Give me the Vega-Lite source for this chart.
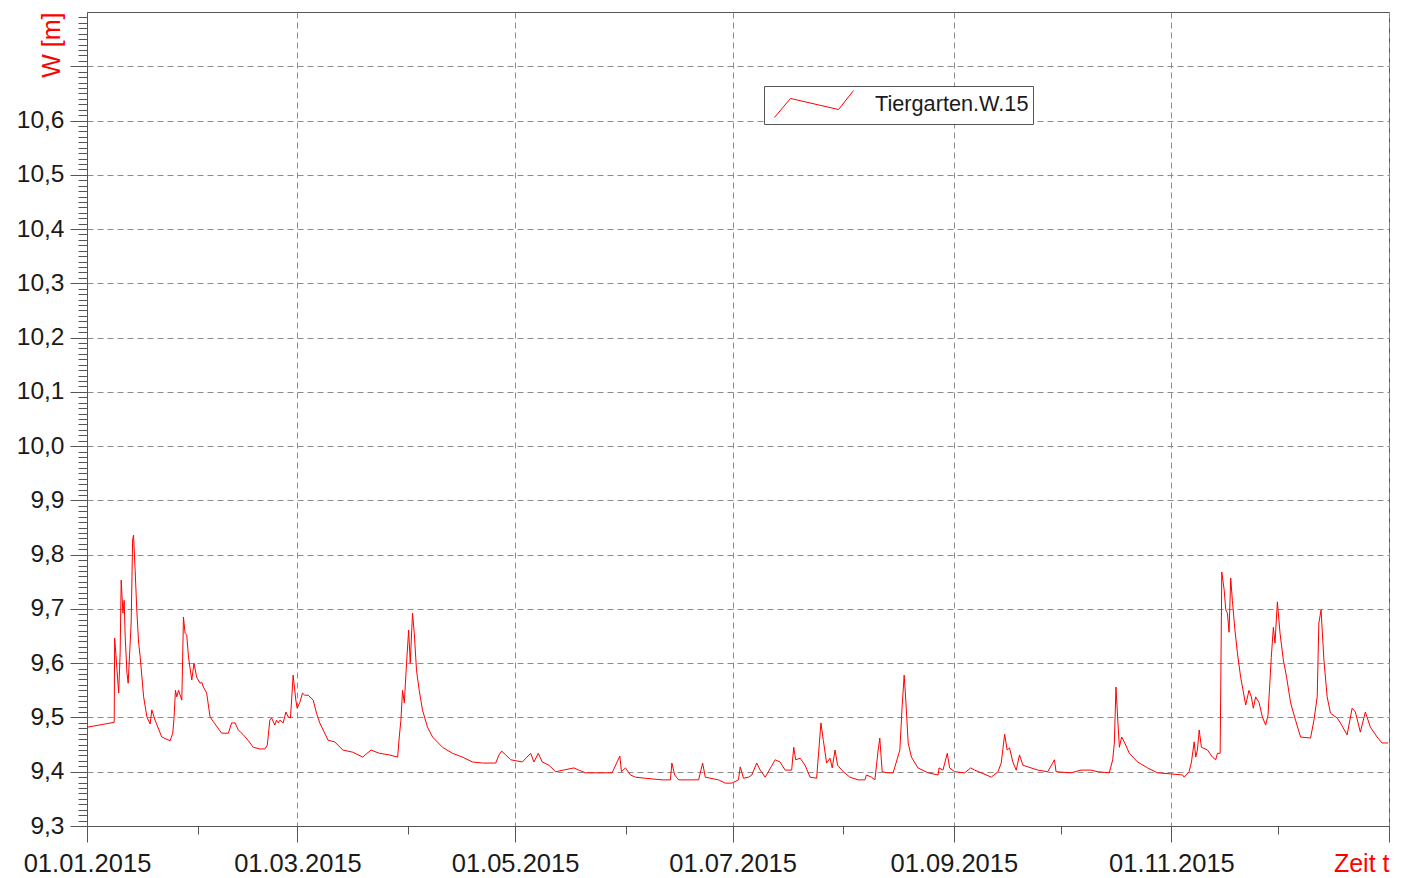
{
  "$schema": "https://vega.github.io/schema/vega-lite/v6.json",
  "width": 1302,
  "height": 814,
  "autosize": {"type": "none"},
  "padding": {"left": 87, "top": 12, "right": 25, "bottom": 52},
  "background": "white",
  "config": {
    "view": {"stroke": "#555555", "strokeWidth": 1},
    "font": "Liberation Sans",
    "axis": {
      "labelFont": "Liberation Sans",
      "titleFont": "Liberation Sans",
      "domainColor": "#555555",
      "tickColor": "#555555",
      "labelColor": "#1a1a1a",
      "labelFontSize": 24,
      "gridColor": "#8c8c8c",
      "gridDash": [6, 4],
      "gridWidth": 1
    }
  },
  "data": {
    "values": [
      {"t": "2015-01-01T00:00", "w": 9.482},
      {"t": "2015-01-08T15:00", "w": 9.491},
      {"t": "2015-01-08T18:00", "w": 9.646},
      {"t": "2015-01-09T05:00", "w": 9.606},
      {"t": "2015-01-09T21:00", "w": 9.545},
      {"t": "2015-01-10T07:00", "w": 9.619},
      {"t": "2015-01-10T14:00", "w": 9.753},
      {"t": "2015-01-11T02:00", "w": 9.692},
      {"t": "2015-01-11T10:00", "w": 9.716},
      {"t": "2015-01-11T17:00", "w": 9.648},
      {"t": "2015-01-12T05:00", "w": 9.582},
      {"t": "2015-01-12T13:00", "w": 9.563},
      {"t": "2015-01-12T23:00", "w": 9.619},
      {"t": "2015-01-13T09:00", "w": 9.674},
      {"t": "2015-01-13T19:00", "w": 9.827},
      {"t": "2015-01-14T01:00", "w": 9.836},
      {"t": "2015-01-14T12:00", "w": 9.771},
      {"t": "2015-01-14T23:00", "w": 9.698},
      {"t": "2015-01-15T11:00", "w": 9.639},
      {"t": "2015-01-15T22:00", "w": 9.611},
      {"t": "2015-01-16T21:00", "w": 9.538},
      {"t": "2015-01-17T19:00", "w": 9.501},
      {"t": "2015-01-18T17:00", "w": 9.488},
      {"t": "2015-01-19T04:00", "w": 9.514},
      {"t": "2015-01-20T02:00", "w": 9.495},
      {"t": "2015-01-21T23:00", "w": 9.464},
      {"t": "2015-01-24T07:00", "w": 9.457},
      {"t": "2015-01-25T01:00", "w": 9.471},
      {"t": "2015-01-25T10:00", "w": 9.501},
      {"t": "2015-01-25T19:00", "w": 9.550},
      {"t": "2015-01-26T04:00", "w": 9.538},
      {"t": "2015-01-26T16:00", "w": 9.550},
      {"t": "2015-01-27T14:00", "w": 9.532},
      {"t": "2015-01-28T01:00", "w": 9.685},
      {"t": "2015-01-28T12:00", "w": 9.655},
      {"t": "2015-01-28T23:00", "w": 9.652},
      {"t": "2015-01-29T11:00", "w": 9.611},
      {"t": "2015-01-30T09:00", "w": 9.569},
      {"t": "2015-01-31T00:00", "w": 9.600},
      {"t": "2015-01-31T18:00", "w": 9.574},
      {"t": "2015-02-01T17:00", "w": 9.563},
      {"t": "2015-02-02T04:00", "w": 9.565},
      {"t": "2015-02-02T15:00", "w": 9.556},
      {"t": "2015-02-03T13:00", "w": 9.545},
      {"t": "2015-02-04T12:00", "w": 9.501},
      {"t": "2015-02-05T11:00", "w": 9.492},
      {"t": "2015-02-07T18:00", "w": 9.471},
      {"t": "2015-02-09T15:00", "w": 9.471},
      {"t": "2015-02-10T13:00", "w": 9.490},
      {"t": "2015-02-11T12:00", "w": 9.490},
      {"t": "2015-02-12T10:00", "w": 9.477},
      {"t": "2015-02-13T20:00", "w": 9.468},
      {"t": "2015-02-15T06:00", "w": 9.457},
      {"t": "2015-02-16T15:00", "w": 9.445},
      {"t": "2015-02-18T11:00", "w": 9.442},
      {"t": "2015-02-19T21:00", "w": 9.442},
      {"t": "2015-02-20T13:00", "w": 9.449},
      {"t": "2015-02-21T06:00", "w": 9.495},
      {"t": "2015-02-21T18:00", "w": 9.499},
      {"t": "2015-02-22T16:00", "w": 9.486},
      {"t": "2015-02-23T03:00", "w": 9.495},
      {"t": "2015-02-23T15:00", "w": 9.490},
      {"t": "2015-02-24T02:00", "w": 9.495},
      {"t": "2015-02-25T00:00", "w": 9.490},
      {"t": "2015-02-25T18:00", "w": 9.510},
      {"t": "2015-02-26T10:00", "w": 9.501},
      {"t": "2015-02-27T01:00", "w": 9.499},
      {"t": "2015-02-27T19:00", "w": 9.578},
      {"t": "2015-02-28T13:00", "w": 9.532},
      {"t": "2015-02-28T22:00", "w": 9.517},
      {"t": "2015-03-01T16:00", "w": 9.528},
      {"t": "2015-03-02T10:00", "w": 9.545},
      {"t": "2015-03-03T01:00", "w": 9.541},
      {"t": "2015-03-04T00:00", "w": 9.541},
      {"t": "2015-03-05T10:00", "w": 9.532},
      {"t": "2015-03-06T08:00", "w": 9.508},
      {"t": "2015-03-07T06:00", "w": 9.490},
      {"t": "2015-03-08T05:00", "w": 9.477},
      {"t": "2015-03-09T14:00", "w": 9.458},
      {"t": "2015-03-11T11:00", "w": 9.455},
      {"t": "2015-03-13T17:00", "w": 9.440},
      {"t": "2015-03-16T12:00", "w": 9.436},
      {"t": "2015-03-19T07:00", "w": 9.427},
      {"t": "2015-03-21T15:00", "w": 9.440},
      {"t": "2015-03-23T23:00", "w": 9.434},
      {"t": "2015-03-26T18:00", "w": 9.431},
      {"t": "2015-03-29T02:00", "w": 9.427},
      {"t": "2015-03-29T13:00", "w": 9.464},
      {"t": "2015-03-30T00:00", "w": 9.495},
      {"t": "2015-03-30T11:00", "w": 9.550},
      {"t": "2015-03-30T23:00", "w": 9.527},
      {"t": "2015-03-31T14:00", "w": 9.600},
      {"t": "2015-04-01T04:00", "w": 9.661},
      {"t": "2015-04-01T15:00", "w": 9.600},
      {"t": "2015-04-02T06:00", "w": 9.692},
      {"t": "2015-04-02T18:00", "w": 9.655},
      {"t": "2015-04-03T09:00", "w": 9.587},
      {"t": "2015-04-04T03:00", "w": 9.550},
      {"t": "2015-04-05T01:00", "w": 9.514},
      {"t": "2015-04-06T11:00", "w": 9.482},
      {"t": "2015-04-07T21:00", "w": 9.464},
      {"t": "2015-04-10T16:00", "w": 9.445},
      {"t": "2015-04-13T11:00", "w": 9.434},
      {"t": "2015-04-16T06:00", "w": 9.427},
      {"t": "2015-04-19T01:00", "w": 9.418},
      {"t": "2015-04-21T20:00", "w": 9.416},
      {"t": "2015-04-25T14:00", "w": 9.416},
      {"t": "2015-04-26T12:00", "w": 9.431},
      {"t": "2015-04-27T06:00", "w": 9.438},
      {"t": "2015-04-28T09:00", "w": 9.431},
      {"t": "2015-04-29T19:00", "w": 9.422},
      {"t": "2015-05-03T01:00", "w": 9.418},
      {"t": "2015-05-05T09:00", "w": 9.434},
      {"t": "2015-05-06T07:00", "w": 9.418},
      {"t": "2015-05-07T12:00", "w": 9.434},
      {"t": "2015-05-08T15:00", "w": 9.418},
      {"t": "2015-05-10T12:00", "w": 9.412},
      {"t": "2015-05-12T09:00", "w": 9.400},
      {"t": "2015-05-17T12:00", "w": 9.407},
      {"t": "2015-05-18T21:00", "w": 9.403},
      {"t": "2015-05-20T18:00", "w": 9.398},
      {"t": "2015-05-28T05:00", "w": 9.398},
      {"t": "2015-05-30T09:00", "w": 9.429},
      {"t": "2015-05-30T20:00", "w": 9.400},
      {"t": "2015-05-31T23:00", "w": 9.407},
      {"t": "2015-06-02T08:00", "w": 9.394},
      {"t": "2015-06-03T18:00", "w": 9.390},
      {"t": "2015-06-06T13:00", "w": 9.388},
      {"t": "2015-06-11T05:00", "w": 9.385},
      {"t": "2015-06-13T13:00", "w": 9.385},
      {"t": "2015-06-13T23:00", "w": 9.416},
      {"t": "2015-06-14T18:00", "w": 9.394},
      {"t": "2015-06-15T21:00", "w": 9.385},
      {"t": "2015-06-21T11:00", "w": 9.385},
      {"t": "2015-06-22T14:00", "w": 9.416},
      {"t": "2015-06-23T08:00", "w": 9.390},
      {"t": "2015-06-27T01:00", "w": 9.385},
      {"t": "2015-06-28T22:00", "w": 9.379},
      {"t": "2015-06-30T18:00", "w": 9.379},
      {"t": "2015-07-02T15:00", "w": 9.385},
      {"t": "2015-07-03T03:00", "w": 9.409},
      {"t": "2015-07-04T01:00", "w": 9.388},
      {"t": "2015-07-05T11:00", "w": 9.390},
      {"t": "2015-07-06T09:00", "w": 9.394},
      {"t": "2015-07-07T18:00", "w": 9.416},
      {"t": "2015-07-08T17:00", "w": 9.403},
      {"t": "2015-07-10T03:00", "w": 9.390},
      {"t": "2015-07-12T22:00", "w": 9.422},
      {"t": "2015-07-14T07:00", "w": 9.418},
      {"t": "2015-07-15T17:00", "w": 9.403},
      {"t": "2015-07-17T13:00", "w": 9.403},
      {"t": "2015-07-18T03:00", "w": 9.445},
      {"t": "2015-07-18T16:00", "w": 9.422},
      {"t": "2015-07-19T22:00", "w": 9.425},
      {"t": "2015-07-21T07:00", "w": 9.412},
      {"t": "2015-07-22T17:00", "w": 9.390},
      {"t": "2015-07-24T13:00", "w": 9.388},
      {"t": "2015-07-25T18:00", "w": 9.490},
      {"t": "2015-07-26T10:00", "w": 9.458},
      {"t": "2015-07-27T08:00", "w": 9.416},
      {"t": "2015-07-28T07:00", "w": 9.425},
      {"t": "2015-07-28T22:00", "w": 9.407},
      {"t": "2015-07-29T17:00", "w": 9.440},
      {"t": "2015-07-30T10:00", "w": 9.412},
      {"t": "2015-08-01T00:00", "w": 9.400},
      {"t": "2015-08-02T21:00", "w": 9.390},
      {"t": "2015-08-05T05:00", "w": 9.385},
      {"t": "2015-08-07T02:00", "w": 9.385},
      {"t": "2015-08-07T12:00", "w": 9.394},
      {"t": "2015-08-08T22:00", "w": 9.390},
      {"t": "2015-08-09T21:00", "w": 9.385},
      {"t": "2015-08-10T19:00", "w": 9.440},
      {"t": "2015-08-11T06:00", "w": 9.462},
      {"t": "2015-08-11T22:00", "w": 9.400},
      {"t": "2015-08-13T14:00", "w": 9.398},
      {"t": "2015-08-15T00:00", "w": 9.398},
      {"t": "2015-08-16T21:00", "w": 9.440},
      {"t": "2015-08-17T12:00", "w": 9.519},
      {"t": "2015-08-18T02:00", "w": 9.578},
      {"t": "2015-08-18T13:00", "w": 9.532},
      {"t": "2015-08-19T05:00", "w": 9.453},
      {"t": "2015-08-20T03:00", "w": 9.427},
      {"t": "2015-08-21T23:00", "w": 9.407},
      {"t": "2015-08-24T19:00", "w": 9.398},
      {"t": "2015-08-27T14:00", "w": 9.394},
      {"t": "2015-08-27T21:00", "w": 9.407},
      {"t": "2015-08-28T23:00", "w": 9.403},
      {"t": "2015-08-30T04:00", "w": 9.434},
      {"t": "2015-08-30T20:00", "w": 9.407},
      {"t": "2015-09-01T06:00", "w": 9.400},
      {"t": "2015-09-04T01:00", "w": 9.398},
      {"t": "2015-09-05T18:00", "w": 9.407},
      {"t": "2015-09-06T20:00", "w": 9.403},
      {"t": "2015-09-08T17:00", "w": 9.398},
      {"t": "2015-09-11T12:00", "w": 9.390},
      {"t": "2015-09-13T09:00", "w": 9.400},
      {"t": "2015-09-14T07:00", "w": 9.416},
      {"t": "2015-09-15T06:00", "w": 9.469},
      {"t": "2015-09-15T23:00", "w": 9.440},
      {"t": "2015-09-16T15:00", "w": 9.444},
      {"t": "2015-09-17T13:00", "w": 9.418},
      {"t": "2015-09-18T12:00", "w": 9.403},
      {"t": "2015-09-19T10:00", "w": 9.431},
      {"t": "2015-09-20T09:00", "w": 9.412},
      {"t": "2015-09-21T18:00", "w": 9.409},
      {"t": "2015-09-24T13:00", "w": 9.403},
      {"t": "2015-09-27T08:00", "w": 9.400},
      {"t": "2015-09-29T05:00", "w": 9.422},
      {"t": "2015-09-29T16:00", "w": 9.400},
      {"t": "2015-10-03T21:00", "w": 9.398},
      {"t": "2015-10-06T16:00", "w": 9.403},
      {"t": "2015-10-09T11:00", "w": 9.403},
      {"t": "2015-10-11T08:00", "w": 9.400},
      {"t": "2015-10-14T14:00", "w": 9.398},
      {"t": "2015-10-15T13:00", "w": 9.422},
      {"t": "2015-10-16T00:00", "w": 9.453},
      {"t": "2015-10-16T11:00", "w": 9.556},
      {"t": "2015-10-16T22:00", "w": 9.501},
      {"t": "2015-10-17T10:00", "w": 9.445},
      {"t": "2015-10-18T01:00", "w": 9.464},
      {"t": "2015-10-18T19:00", "w": 9.455},
      {"t": "2015-10-20T05:00", "w": 9.434},
      {"t": "2015-10-22T12:00", "w": 9.418},
      {"t": "2015-10-25T08:00", "w": 9.407},
      {"t": "2015-10-28T03:00", "w": 9.398},
      {"t": "2015-10-31T20:00", "w": 9.396},
      {"t": "2015-11-04T03:00", "w": 9.394},
      {"t": "2015-11-04T14:00", "w": 9.390},
      {"t": "2015-11-05T23:00", "w": 9.400},
      {"t": "2015-11-06T15:00", "w": 9.418},
      {"t": "2015-11-07T09:00", "w": 9.455},
      {"t": "2015-11-07T20:00", "w": 9.427},
      {"t": "2015-11-08T07:00", "w": 9.440},
      {"t": "2015-11-08T19:00", "w": 9.477},
      {"t": "2015-11-09T10:00", "w": 9.445},
      {"t": "2015-11-11T03:00", "w": 9.440},
      {"t": "2015-11-12T12:00", "w": 9.427},
      {"t": "2015-11-13T10:00", "w": 9.422},
      {"t": "2015-11-13T22:00", "w": 9.434},
      {"t": "2015-11-14T16:00", "w": 9.434},
      {"t": "2015-11-15T03:00", "w": 9.768},
      {"t": "2015-11-15T19:00", "w": 9.735},
      {"t": "2015-11-16T06:00", "w": 9.698},
      {"t": "2015-11-16T17:00", "w": 9.692},
      {"t": "2015-11-17T04:00", "w": 9.657},
      {"t": "2015-11-17T15:00", "w": 9.757},
      {"t": "2015-11-18T02:00", "w": 9.716},
      {"t": "2015-11-18T18:00", "w": 9.665},
      {"t": "2015-11-19T12:00", "w": 9.619},
      {"t": "2015-11-20T10:00", "w": 9.574},
      {"t": "2015-11-21T20:00", "w": 9.523},
      {"t": "2015-11-22T18:00", "w": 9.550},
      {"t": "2015-11-23T10:00", "w": 9.538},
      {"t": "2015-11-23T23:00", "w": 9.517},
      {"t": "2015-11-24T15:00", "w": 9.538},
      {"t": "2015-11-25T14:00", "w": 9.527},
      {"t": "2015-11-26T12:00", "w": 9.501},
      {"t": "2015-11-27T10:00", "w": 9.486},
      {"t": "2015-11-28T02:00", "w": 9.504},
      {"t": "2015-11-29T00:00", "w": 9.611},
      {"t": "2015-11-29T14:00", "w": 9.666},
      {"t": "2015-11-30T01:00", "w": 9.637},
      {"t": "2015-11-30T17:00", "w": 9.713},
      {"t": "2015-12-01T11:00", "w": 9.655},
      {"t": "2015-12-02T09:00", "w": 9.606},
      {"t": "2015-12-03T07:00", "w": 9.574},
      {"t": "2015-12-04T10:00", "w": 9.527},
      {"t": "2015-12-05T19:00", "w": 9.495},
      {"t": "2015-12-07T05:00", "w": 9.464},
      {"t": "2015-12-10T00:00", "w": 9.462},
      {"t": "2015-12-10T23:00", "w": 9.495},
      {"t": "2015-12-11T21:00", "w": 9.538},
      {"t": "2015-12-12T08:00", "w": 9.674},
      {"t": "2015-12-12T23:00", "w": 9.698},
      {"t": "2015-12-13T18:00", "w": 9.606},
      {"t": "2015-12-14T16:00", "w": 9.538},
      {"t": "2015-12-15T14:00", "w": 9.508},
      {"t": "2015-12-17T11:00", "w": 9.499},
      {"t": "2015-12-18T09:00", "w": 9.490},
      {"t": "2015-12-20T06:00", "w": 9.468},
      {"t": "2015-12-21T16:00", "w": 9.517},
      {"t": "2015-12-22T14:00", "w": 9.510},
      {"t": "2015-12-23T23:00", "w": 9.473},
      {"t": "2015-12-25T09:00", "w": 9.510},
      {"t": "2015-12-26T19:00", "w": 9.482},
      {"t": "2015-12-28T16:00", "w": 9.464},
      {"t": "2015-12-30T01:00", "w": 9.453},
      {"t": "2015-12-31T18:00", "w": 9.453}
    ]
  },
  "layer": [
    {
      "mark": {"type": "line", "strokeWidth": 1, "interpolate": "linear"},
      "encoding": {
        "x": {
          "field": "t",
          "type": "temporal",
          "scale": {"domain": [{"year": 2015, "month": 1, "date": 1}, {"year": 2016, "month": 1, "date": 1}]},
          "axis": {
            "orient": "bottom",
            "values": [
              {"year": 2015, "month": 1, "date": 1},
              {"year": 2015, "month": 3, "date": 1},
              {"year": 2015, "month": 5, "date": 1},
              {"year": 2015, "month": 7, "date": 1},
              {"year": 2015, "month": 9, "date": 1},
              {"year": 2015, "month": 11, "date": 1},
              {"year": 2016, "month": 1, "date": 1}
            ],
            "labelExpr": "year(datum.value) > 2015 ? '' : timeFormat(datum.value, '%d.%m.%Y')",
            "labelFontSize": 25.5,
            "tickSize": 16,
            "labelPadding": 9,
            "labelFlush": false,
            "labelOverlap": false,
            "labelBound": false,
            "grid": true,
            "title": "Zeit t",
            "titleColor": "#ff0000",
            "titleFontSize": 25,
            "titleFontWeight": "normal",
            "titleAnchor": "end",
            "titleAlign": "right",
            "titleBaseline": "alphabetic",
            "titleX": 1302,
            "titleY": 45
          }
        },
        "y": {
          "field": "w",
          "type": "quantitative",
          "scale": {"domain": [9.3, 10.8], "nice": false, "zero": false},
          "axis": {
            "orient": "left",
            "values": [9.3, 9.4, 9.5, 9.6, 9.7, 9.8, 9.9, 10.0, 10.1, 10.2, 10.3, 10.4, 10.5, 10.6, 10.7],
            "labelExpr": "datum.value > 10.65 ? '' : replace(format(datum.value, '.1f'), '.', ',')",
            "labelFontSize": 24.5,
            "tickSize": 17,
            "labelPadding": 6,
            "labelOverlap": false,
            "labelFlush": false,
            "grid": true,
            "title": "W [m]",
            "titleColor": "#ff0000",
            "titleFontSize": 25,
            "titleFontWeight": "normal",
            "titleAngle": 270,
            "titleAlign": "right",
            "titleBaseline": "alphabetic",
            "titleX": -28,
            "titleY": 0
          }
        },
        "color": {
          "datum": "Tiergarten.W.15",
          "type": "nominal",
          "scale": {"range": ["#ff0000"]},
          "legend": {
            "orient": "none",
            "legendX": 677,
            "legendY": 74,
            "title": null,
            "symbolType": "M-0.56,1 L0.63,-0.41 L4.19,0.41 L5.3,-1",
            "symbolSize": 729,
            "symbolStrokeWidth": 1,
            "symbolStrokeColor": "#ff0000",
            "symbolFillColor": "transparent",
            "labelFontSize": 21.7,
            "labelFont": "Liberation Sans",
            "labelColor": "#1a1a1a",
            "labelOffset": 79,
            "labelLimit": 400,
            "padding": 4,
            "strokeColor": "#555555",
            "fillColor": "white"
          }
        }
      }
    },
    {
      "mark": {"type": "line", "opacity": 0},
      "encoding": {
        "x": {
          "field": "t",
          "type": "temporal",
          "axis": {
            "orient": "bottom",
            "values": [
              {"year": 2015, "month": 2, "date": 1},
              {"year": 2015, "month": 4, "date": 1},
              {"year": 2015, "month": 6, "date": 1},
              {"year": 2015, "month": 8, "date": 1},
              {"year": 2015, "month": 10, "date": 1},
              {"year": 2015, "month": 12, "date": 1}
            ],
            "labels": false,
            "tickSize": 8,
            "grid": false,
            "domain": false,
            "title": null
          }
        },
        "y": {
          "field": "w",
          "type": "quantitative",
          "axis": {
            "orient": "left",
            "values": [9.31, 9.32, 9.33, 9.34, 9.35, 9.36, 9.37, 9.38, 9.39,
              9.41, 9.42, 9.43, 9.44, 9.45, 9.46, 9.47, 9.48, 9.49,
              9.51, 9.52, 9.53, 9.54, 9.55, 9.56, 9.57, 9.58, 9.59,
              9.61, 9.62, 9.63, 9.64, 9.65, 9.66, 9.67, 9.68, 9.69,
              9.71, 9.72, 9.73, 9.74, 9.75, 9.76, 9.77, 9.78, 9.79,
              9.81, 9.82, 9.83, 9.84, 9.85, 9.86, 9.87, 9.88, 9.89,
              9.91, 9.92, 9.93, 9.94, 9.95, 9.96, 9.97, 9.98, 9.99,
              10.01, 10.02, 10.03, 10.04, 10.05, 10.06, 10.07, 10.08, 10.09,
              10.11, 10.12, 10.13, 10.14, 10.15, 10.16, 10.17, 10.18, 10.19,
              10.21, 10.22, 10.23, 10.24, 10.25, 10.26, 10.27, 10.28, 10.29,
              10.31, 10.32, 10.33, 10.34, 10.35, 10.36, 10.37, 10.38, 10.39,
              10.41, 10.42, 10.43, 10.44, 10.45, 10.46, 10.47, 10.48, 10.49,
              10.51, 10.52, 10.53, 10.54, 10.55, 10.56, 10.57, 10.58, 10.59,
              10.61, 10.62, 10.63, 10.64, 10.65, 10.66, 10.67, 10.68, 10.69,
              10.71, 10.72, 10.73, 10.74, 10.75, 10.76, 10.77, 10.78, 10.79],
            "labels": false,
            "tickSize": 9,
            "grid": false,
            "domain": false,
            "title": null
          }
        }
      }
    }
  ],
  "resolve": {"axis": {"x": "independent", "y": "independent"}}
}
